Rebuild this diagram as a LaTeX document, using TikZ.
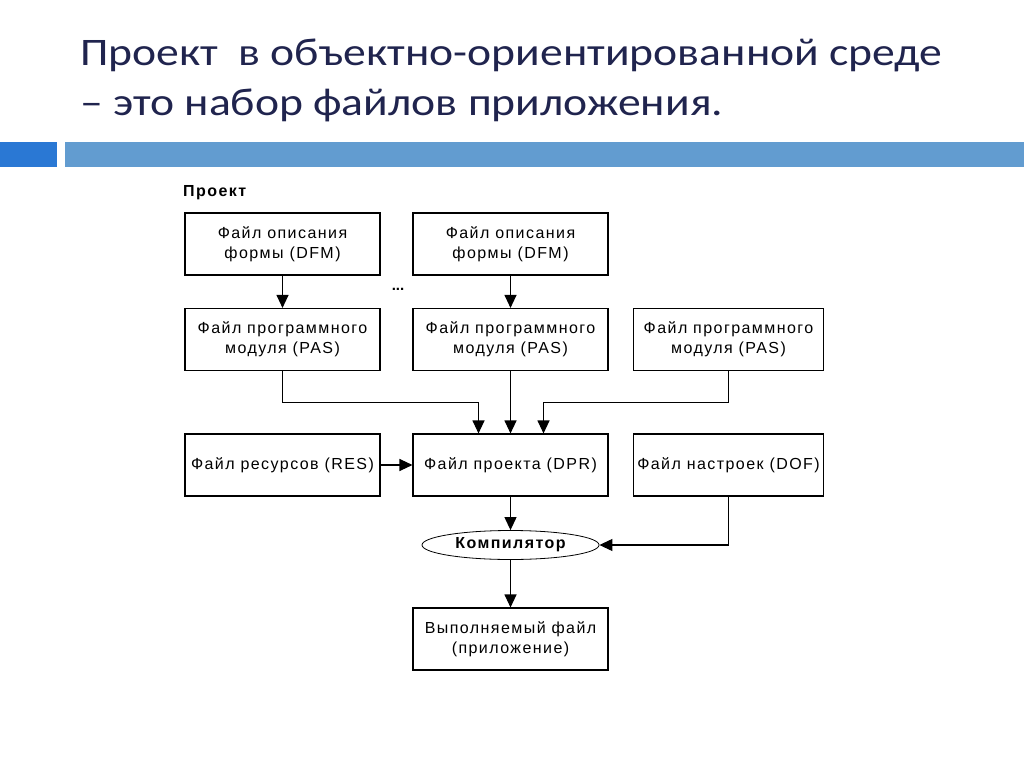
\documentclass[tikz,border=0pt]{standalone}
\usepackage{fontspec}
\setmainfont{Liberation Sans}
\newfontfamily\titlefont[FakeStretch=1.17]{Carlito}
\newfontfamily\boxfont[LetterSpace=9]{Liberation Sans}
\usetikzlibrary{positioning,shapes.geometric,arrows.meta}
\definecolor{titleblue}{RGB}{32,36,78}
\definecolor{bardark}{RGB}{42,120,212}
\definecolor{barlight}{RGB}{98,156,208}
\tikzset{
  filebox/.style={rectangle, draw, line width=1.1pt, minimum width=195pt, minimum height=62pt,
    inner sep=0pt, align=center, font=\boxfont\fontsize{16}{20}\selectfont},
  flow/.style={->, line width=1.1pt},
  titleline/.style={anchor=base west, inner sep=0pt, text=titleblue,
    font=\titlefont\fontsize{39}{47}\selectfont},
}
\begin{document}
\begin{tikzpicture}[x=1pt, y=-1pt, node distance=228pt, >={Triangle[length=13pt,width=12pt]}]
  \useasboundingbox (0,0) rectangle (1024,767);
  % header bar
  \fill[bardark] (0,142) rectangle (57,167);
  \fill[barlight] (65,142) rectangle (1024,167);
  \node[titleline] (title1) at (80,66) {Проект\ \ в объектно-ориентированной среде};
  \node[titleline] (title2) at (80,116) {– это набор файлов приложения.};

  \node[anchor=base west, inner sep=0pt, font=\bfseries\boxfont\fontsize{16}{18}\selectfont] (proj) at (183,197) {Проект};

  \node[filebox] (dfm1) at (282.5,244) {Файл описания\\формы (DFM)};
  \node[filebox, right of=dfm1] (dfm2) {Файл описания\\формы (DFM)};
  \node[filebox, below of=dfm1, node distance=95.5pt] (pas1) {Файл программного\\модуля (PAS)};
  \node[filebox, right of=pas1] (pas2) {Файл программного\\модуля (PAS)};
  \node[filebox, right of=pas2, node distance=218pt, minimum width=190pt] (pas3) {Файл программного\\модуля (PAS)};
  \node[filebox, below of=pas1, node distance=125.5pt] (res) {Файл ресурсов (RES)};
  \node[filebox, right of=res] (dpr) {Файл проекта (DPR)};
  \node[filebox, right of=dpr, node distance=218pt, minimum width=190pt] (dof) {Файл настроек (DOF)};
  \node[ellipse, draw, line width=0.8pt, minimum width=177pt, minimum height=29pt, inner sep=0pt,
    below of=dpr, node distance=80pt, font=\bfseries\boxfont\fontsize{16}{18}\selectfont] (comp) {Компилятор};
  \node[filebox, below of=comp, node distance=94pt] (exe) {Выполняемый файл\\(приложение)};
  \node[inner sep=0pt, font=\bfseries\fontsize{15}{18}\selectfont] (dots) at (398,289) {...};

  \draw[flow] (dfm1) -- (pas1);
  \draw[flow] (dfm2) -- (pas2);
  \draw[flow] (pas2) -- (dpr);
  \draw[flow] (pas1.south) |- ([xshift=-32pt,yshift=31pt]dpr.north) -- ([xshift=-32pt]dpr.north);
  \draw[flow] (pas3.south) |- ([xshift=33pt,yshift=31pt]dpr.north) -- ([xshift=33pt]dpr.north);
  \draw[flow] (res) -- (dpr);
  \draw[flow] (dpr) -- (comp);
  \draw[flow] (dof.south) |- (comp.east);
  \draw[flow] (comp) -- (exe);
\end{tikzpicture}
\end{document}
